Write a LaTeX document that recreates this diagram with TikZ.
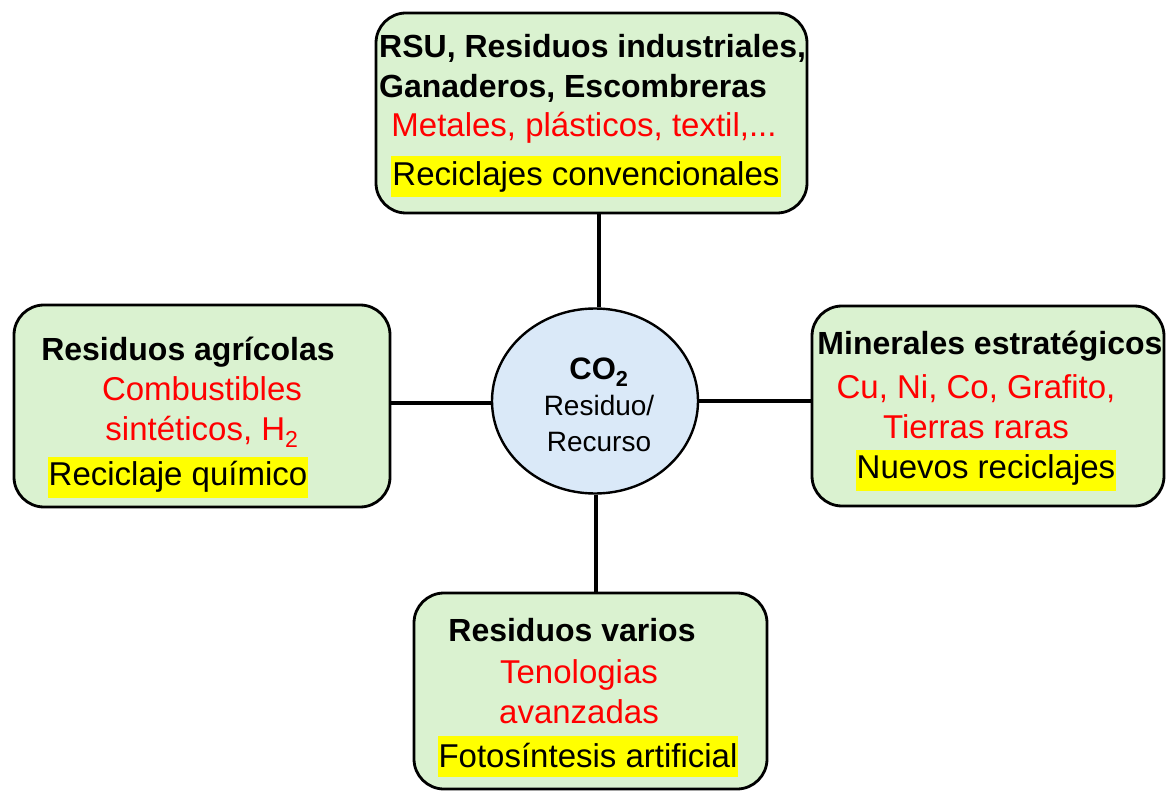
\documentclass[tikz,border=0pt]{standalone}
\usepackage{fontspec}
\setmainfont{Liberation Sans}
\usepackage{xcolor}
\usepackage{tikz}
\usetikzlibrary{positioning,shapes.geometric}
\definecolor{boxgreen}{HTML}{DAF2D0}
\definecolor{hubblue}{HTML}{DAE9F8}
\definecolor{redtxt}{HTML}{FF0000}
\definecolor{hlyellow}{HTML}{FFFF00}
\tikzset{
  area/.style  ={rounded corners=30pt,draw=black,line width=2.8pt,fill=boxgreen},
  hub/.style   ={ellipse,draw=black,line width=2.4pt,fill=hubblue,
                 minimum width=206pt,minimum height=185pt,inner sep=0pt},
  head/.style  ={font=\fontsize{32}{40}\selectfont\bfseries,align=left,inner sep=0pt},
  uses/.style  ={font=\fontsize{33}{40}\selectfont,text=redtxt,align=center,inner sep=0pt},
  recyc/.style ={font=\fontsize{33}{40}\selectfont,fill=hlyellow,inner xsep=1pt,
                 inner ysep=0pt,minimum height=41pt},
  link/.style  ={line width=4.5pt,draw=black}
}
\begin{document}
\begin{tikzpicture}[x=1pt,y=-1pt]
    \useasboundingbox (0,0) rectangle (1167,791);
    % boxes
    \node[area,minimum width=431pt,minimum height=200pt] (rsu) at (591.5,113) {};
    \node[area,minimum width=376pt,minimum height=202pt] (agri) at (202,406) {};
    \node[area,minimum width=352pt,minimum height=200pt] (mine) at (988,406) {};
    \node[area,minimum width=353pt,minimum height=196pt] (vari) at (590.5,691) {};
    \node[hub] (co2) at (595,401) {};
    \node[align=center,inner sep=0pt,font=\fontsize{28}{36}\selectfont] (co2txt) at (599,405)
      {\textbf{\fontsize{31}{36}\selectfont CO\textsubscript{2}}\\Residuo/\\Recurso};
    % links
    \draw[link] (rsu.south -| 599,0) -- (co2.north -| 599,0);
    \draw[link] (agri.east |- 0,403) -- (co2.west |- 0,403);
    \draw[link] (co2.east |- 0,401) -- (mine.west |- 0,401);
    \draw[link] (co2.south -| 596,0) -- (vari.north -| 596,0);
    % top
    \node[head,anchor=west] (rsuhead) at (379,68) {RSU, Residuos industriales,\\Ganaderos, Escombreras};
    \node[uses] (rsuuse) at (584,128) {Metales, plásticos, textil,...};
    \node[recyc] (rsurec) at (586,177) {Reciclajes convencionales};
    % left
    \node[head] (agrihead) at (188,352) {Residuos agrícolas};
    \node[uses] (agriuse) at (202,412) {Combustibles\\sintéticos, H\textsubscript{2}};
    \node[recyc] (agrirec) at (178,477) {Reciclaje químico};
    % right
    \node[head] (minehead) at (990,346) {Minerales estratégicos};
    \node[uses] (mineuse) at (976,407) {Cu, Ni, Co, Grafito,\\Tierras raras};
    \node[recyc] (minerec) at (986,470) {Nuevos reciclajes};
    % bottom
    \node[head] (varihead) at (572,630) {Residuos varios};
    \node[uses] (variuse) at (579,692) {Tenologias\\avanzadas};
    \node[recyc] (varirec) at (588,756) {Fotosíntesis artificial};
\end{tikzpicture}
\end{document}
